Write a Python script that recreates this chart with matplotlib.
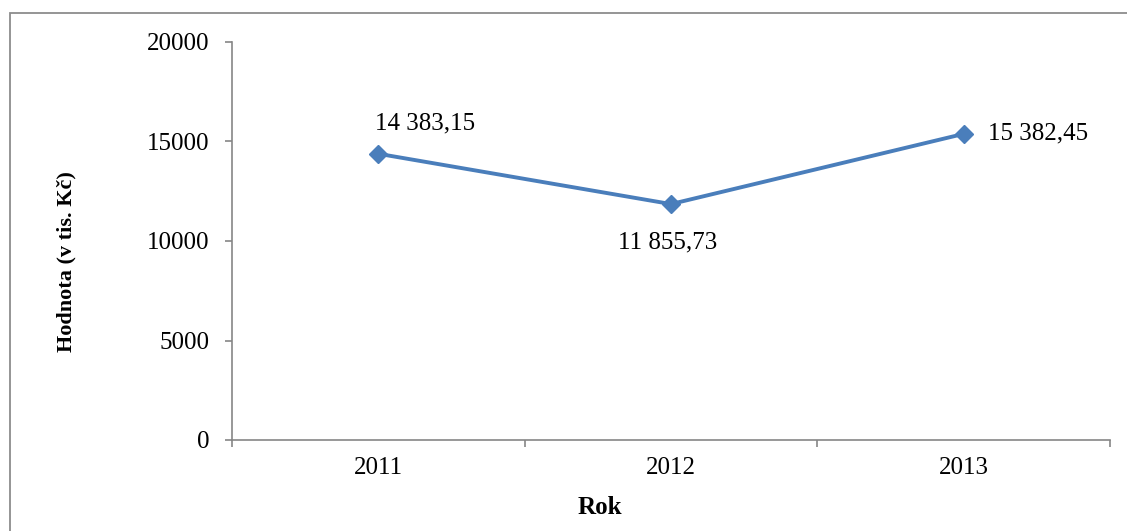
import matplotlib
matplotlib.use('Agg')
import matplotlib.pyplot as plt
from matplotlib.patches import Rectangle

# data
roky = ['2011', '2012', '2013']
hodnoty = [14383.15, 11855.73, 15382.45]
popisky = ['14 383,15', '11 855,73', '15 382,45']
y_ticks = [0, 5000, 10000, 15000, 20000]

plt.rcParams['font.family'] = ['Liberation Serif', 'DejaVu Serif']

W, H = 1127, 531
fig = plt.figure(figsize=(W / 100, H / 100), dpi=100)
ax = fig.add_axes([232 / W, 1 - 440 / H, (1110 - 232) / W, (440 - 42) / H])

x = list(range(len(roky)))
ax.plot(x, hodnoty, color='#4A7EBB', linewidth=2.8, marker='D',
        markersize=9, markerfacecolor='#4A7EBB', markeredgecolor='#4A7EBB')

# label placement like Excel: above, below, right
offsets = [((-3, 30), 'left', 'center'),
           ((-3, -38), 'center', 'center'),
           ((24, 0), 'left', 'center')]
for xi, yi, txt, (off, ha, va) in zip(x, hodnoty, popisky, offsets):
    ax.annotate(txt, (xi, yi), xytext=off, textcoords='offset pixels',
                ha=ha, va=va, fontsize=18)

ax.set_xlim(-0.5, len(roky) - 0.5)
ax.set_ylim(0, 20000)
ax.set_yticks(y_ticks)
ax.set_yticklabels([str(v) for v in y_ticks])
ax.set_xticks(x)
ax.set_xticklabels(roky)
ax.set_xticks([i - 0.5 for i in range(len(roky) + 1)], minor=True)

ax.tick_params(axis='x', which='major', length=0, pad=12, labelsize=18)
ax.tick_params(axis='x', which='minor', length=5, color='#868686', width=1.2)
ax.tick_params(axis='y', length=5, color='#868686', width=1.2, pad=11,
               labelsize=18)

for s in ['top', 'right']:
    ax.spines[s].set_visible(False)
for s in ['left', 'bottom']:
    ax.spines[s].set_color('#868686')
    ax.spines[s].set_linewidth(1.2)

fig.text(600 / W, 1 - 508 / H, 'Rok', ha='center', va='center',
         fontsize=18, fontweight='bold')
fig.text(66 / W, 1 - 262 / H, 'Hodnota (v tis. Kč)', ha='center', va='center',
         rotation=90, fontsize=16, fontweight='bold')

# outer chart border (only left and top visible in the crop)
fig.patches.append(Rectangle((10 / W, -0.1), 1.2, 1.1 - 13 / H,
                             transform=fig.transFigure, fill=False,
                             edgecolor='#8C8C8C', linewidth=1.3))

fig.savefig('out.png', dpi=100)
